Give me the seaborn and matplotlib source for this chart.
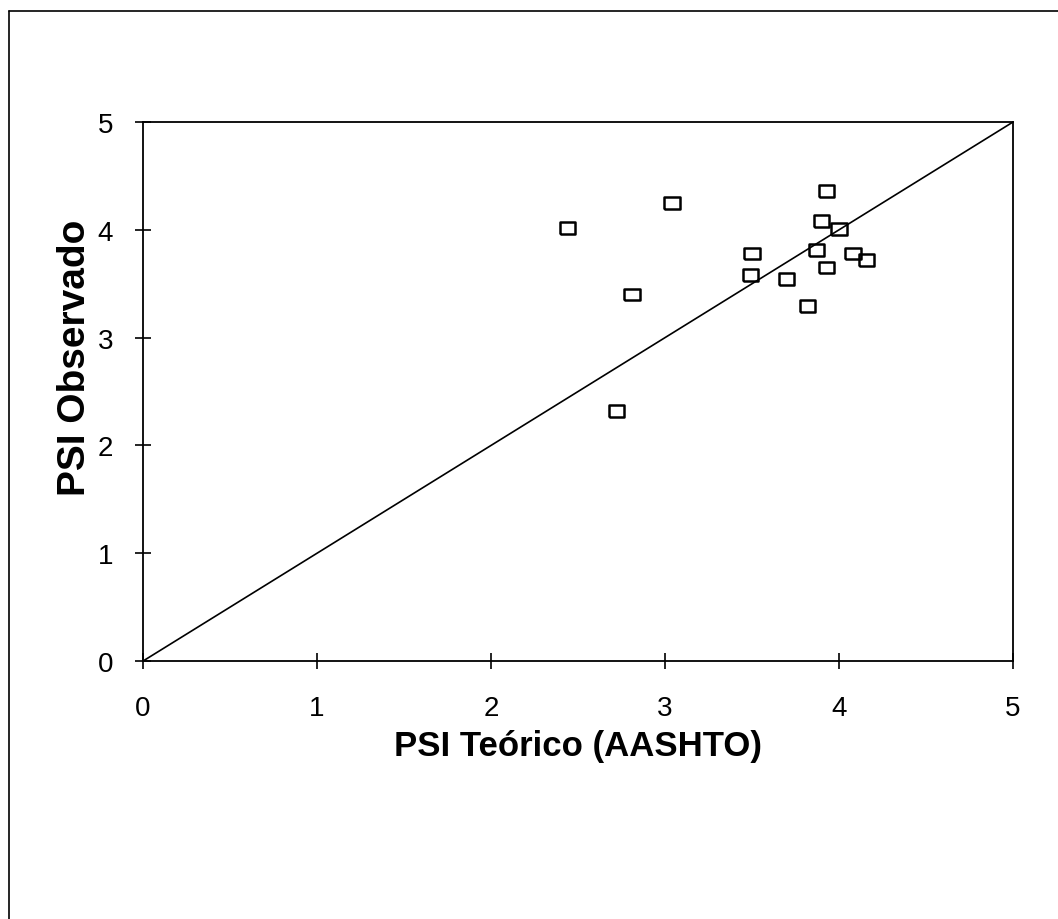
import matplotlib
matplotlib.use('Agg')
import matplotlib.pyplot as plt
from matplotlib.lines import Line2D
import seaborn as sns
import pandas as pd

# PSI values
psi_teorico = [2.44, 3.04, 3.93, 3.90, 4.00, 3.50, 3.87, 4.08, 4.16, 3.49, 3.93, 3.70, 2.81, 3.82, 2.72]
psi_observado = [4.02, 4.25, 4.36, 4.08, 4.01, 3.78, 3.81, 3.78, 3.72, 3.58, 3.65, 3.54, 3.40, 3.29, 2.32]

# line of equality
line_x = [0, 5]
line_y = [0, 5]

ticks = [0, 1, 2, 3, 4, 5]

data = pd.DataFrame({'teorico': psi_teorico, 'observado': psi_observado})
linea = pd.DataFrame({'x': line_x, 'y': line_y})

sns.set_theme(style='white')
plt.rcParams['font.family'] = ['Liberation Sans', 'DejaVu Sans']

fig = plt.figure(figsize=(10.58, 9.2), dpi=100)
ax = fig.add_axes([0.1352, 0.2804, 0.8223, 0.5859])

sns.lineplot(data=linea, x='x', y='y', ax=ax, color='black', linewidth=1.2)

# slightly wide hollow square, like the original markers
rect = [(-1, -0.78), (1, -0.78), (1, 0.78), (-1, 0.78), (-1, -0.78)]
sns.scatterplot(data=data, x='teorico', y='observado', ax=ax, marker=rect, s=120,
                facecolor='none', edgecolor='black', linewidth=1.8, zorder=3)

ax.set_xlim(0, 5)
ax.set_ylim(0, 5)
ax.set_xticks(ticks)
ax.set_yticks(ticks)
ax.tick_params(axis='both', direction='inout', length=11, width=1.2, colors='black',
               labelsize=20, bottom=True, left=True)
ax.tick_params(axis='x', pad=19)
ax.tick_params(axis='y', pad=16)

for sp in ax.spines.values():
    sp.set_color('black')
    sp.set_linewidth(1.3)

ax.set_xlabel('PSI Teórico (AASHTO)', fontsize=25, fontweight='bold', labelpad=6, color='black')
ax.set_ylabel('PSI Observado', fontsize=28, fontweight='bold', color='black')
ax.yaxis.set_label_coords(-0.057, 0.565)

# page frame of the scanned sheet
fig.add_artist(Line2D([0.0085, 0.0085], [0.987, 0.0], transform=fig.transFigure, color='black', lw=1.2))
fig.add_artist(Line2D([0.0085, 1.0], [0.987, 0.987], transform=fig.transFigure, color='black', lw=1.2))

fig.savefig('out.png', dpi=100)
